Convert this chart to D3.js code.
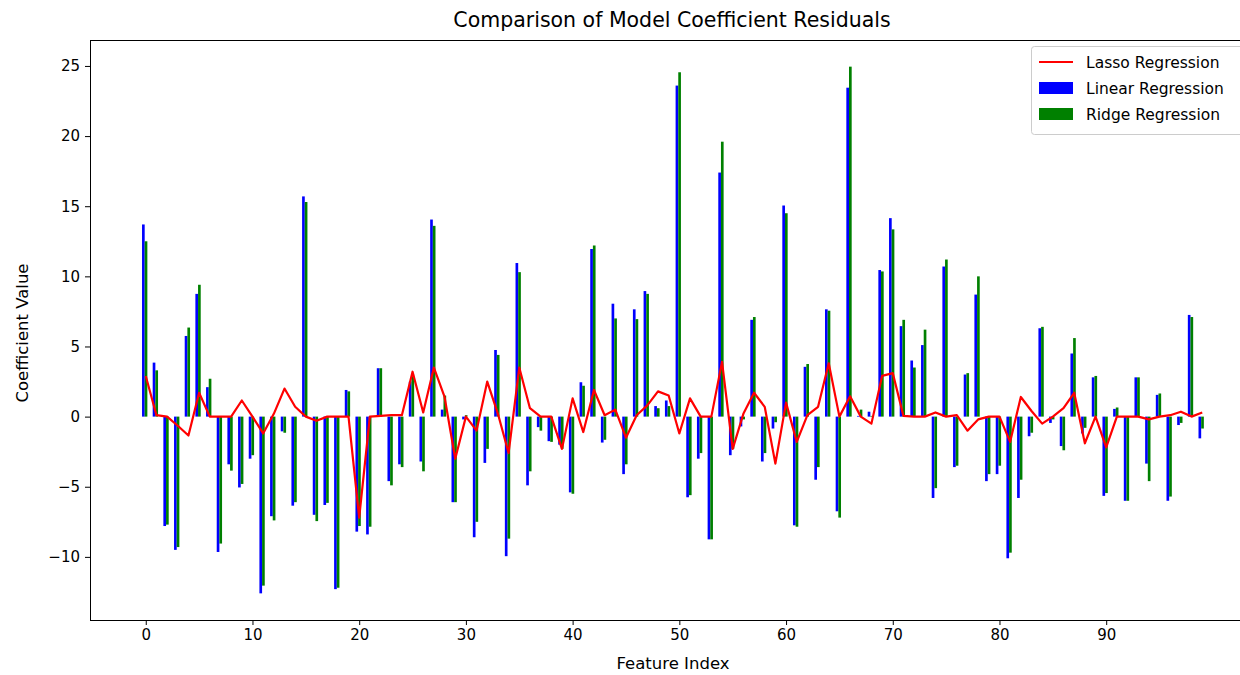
<!DOCTYPE html>
<html>
<head>
<meta charset="utf-8">
<script src="https://cdn.jsdelivr.net/npm/d3@7"></script>
<style>
    body { margin: 0; background: #ffffff; }
    svg { display: block; font-family: "DejaVu Sans", sans-serif; }
</style>
</head>
<body>
<svg id="chart"></svg>
<script>
// coefficients, index 0..99
const linearValues = [
    13.7, 3.85, -7.8, -9.5, 5.75, 8.75, 2.1, -9.65, -3.4, -5.05,
    -3.0, -12.6, -7.1, -1.05, -6.35, 15.7, -7.0, -6.3, -12.3, 1.9,
    -8.2, -8.4, 3.45, -4.6, -3.4, 2.5, -3.2, 14.05, 0.5, -6.1,
    -0.2, -8.6, -3.3, 4.75, -9.95, 10.95, -4.9, -0.75, -1.75, -2.0,
    -5.4, 2.45, 11.95, -1.85, 8.05, -4.1, 7.65, 8.95, 0.75, 1.15,
    23.6, -5.75, -3.0, -8.75, 17.4, -2.75, -0.7, 6.9, -3.2, -0.85,
    15.05, -7.75, 3.55, -4.5, 7.65, -6.75, 23.45, 0.05, 0.35, 10.45,
    14.15, 6.45, 4.0, 5.1, -5.8, 10.7, -3.6, 3.0, 8.7, -4.6,
    -4.1, -10.1, -5.8, -1.4, 6.3, -0.45, -2.1, 4.5, -1.2, 2.8,
    -5.65, 0.55, -6.0, 2.8, -3.35, 1.55, -6.0, -0.6, 7.25, -1.55
];
const ridgeValues = [
    12.5, 3.3, -7.7, -9.3, 6.35, 9.4, 2.7, -9.05, -3.85, -4.8,
    -2.75, -12.05, -7.4, -1.15, -6.1, 15.3, -7.45, -6.15, -12.2, 1.8,
    -7.8, -7.85, 3.45, -4.9, -3.6, 3.0, -3.9, 13.6, 1.5, -6.1,
    0.1, -7.5, -2.3, 4.4, -8.7, 10.3, -3.9, -1.0, -1.8, -2.3,
    -5.5, 2.2, 12.2, -1.65, 7.0, -3.4, 6.95, 8.75, 0.6, 0.75,
    24.55, -5.6, -2.6, -8.75, 19.6, -2.3, -0.2, 7.1, -2.6, -0.4,
    14.5, -7.85, 3.75, -3.6, 7.55, -7.2, 24.95, 0.5, 0.05, 10.35,
    13.35, 6.9, 3.5, 6.2, -5.1, 11.2, -3.5, 3.1, 10.0, -4.1,
    -3.5, -9.7, -4.5, -1.15, 6.4, -0.2, -2.4, 5.6, -0.8, 2.9,
    -5.45, 0.65, -6.0, 2.8, -4.6, 1.65, -5.7, -0.45, 7.1, -0.85
];
const lassoValues = [
    2.9, 0.1, 0.0, -0.65, -1.35, 1.7, 0.0, 0.0, 0.0, 1.15,
    0.0, -1.2, 0.2, 2.0, 0.7, 0.0, -0.3, 0.0, 0.0, 0.0,
    -7.2, 0.0, 0.05, 0.1, 0.1, 3.2, 0.3, 3.5, 1.4, -3.0,
    0.0, -1.0, 2.5, 0.2, -2.6, 3.5, 0.6, 0.0, 0.0, -2.3,
    1.3, -1.1, 1.9, 0.1, 0.5, -1.5, 0.1, 0.8, 1.8, 1.5,
    -1.2, 1.3, 0.0, 0.0, 3.9, -2.3, 0.2, 1.7, 0.7, -3.35,
    1.0, -1.8, 0.1, 0.7, 3.8, 0.0, 1.45, 0.0, -0.5, 2.9,
    3.1, 0.05, 0.0, 0.0, 0.3, 0.0, 0.1, -1.0, -0.2, 0.0,
    0.0, -1.8, 1.4, 0.4, -0.5, 0.0, 0.6, 1.7, -1.9, 0.0,
    -2.2, 0.0, 0.0, 0.0, -0.2, 0.0, 0.1, 0.35, 0.0, 0.3
];
const xTicks = [0, 10, 20, 30, 40, 50, 60, 70, 80, 90];
const yTicks = [-10, -5, 0, 5, 10, 15, 20, 25];
const seriesNames = ['Lasso Regression', 'Linear Regression', 'Ridge Regression'];

class ResidualChart {
    constructor (selector) {
        this._selector = selector;
        this.w = 1240;
        this.h = 675;
        this.frame = { left: 90, top: 40, right: 1258, bottom: 620 };
        this.barWidth = 0.25;

        this.svg = d3.select(selector)
            .attr('width', this.w)
            .attr('height', this.h);

        this.x = d3.scaleLinear()
            .domain([-5.225, 104.225])
            .range([this.frame.left, this.frame.right]);
        this.y = d3.scaleLinear()
            .domain([-14.5, 26.85])
            .range([this.frame.bottom, this.frame.top]);
    }
    makeRows () {
        let rows = [];
        for (let i = 0; i < linearValues.length; i++)
            rows.push({ i: i, linear: linearValues[i], ridge: ridgeValues[i], lasso: lassoValues[i] });

        return rows;
    }
    drawBars (rows, key, shift, color) {
        let x = this.x;
        let y = this.y;
        let bw = this.barWidth;

        this.svg.append('g')
            .attr('class', 'bars ' + key)
            .selectAll('rect')
            .data(rows)
            .enter()
            .append('rect')
            .attr('x', (d) => { return x(d.i + shift); })
            .attr('y', (d) => { return y(Math.max(0, d[key])); })
            .attr('width', (d) => { return x(d.i + shift + bw) - x(d.i + shift); })
            .attr('height', (d) => { return Math.abs(y(d[key]) - y(0)); })
            .attr('fill', color);
    }
    drawLine (rows) {
        let line = d3.line()
            .x((d) => { return this.x(d.i); })
            .y((d) => { return this.y(d.lasso); });

        this.svg.append('path')
            .datum(rows)
            .attr('d', line)
            .attr('fill', 'none')
            .attr('stroke', '#ff0000')
            .attr('stroke-width', 2.2)
            .attr('stroke-linejoin', 'round');
    }
    drawAxes () {
        let f = this.frame;

        let xAxis = this.svg.append('g')
            .attr('transform', 'translate(0,' + f.bottom + ')')
            .call(d3.axisBottom(this.x).tickValues(xTicks).tickSize(5).tickPadding(4));
        let yAxis = this.svg.append('g')
            .attr('transform', 'translate(' + f.left + ',0)')
            .call(d3.axisLeft(this.y).tickValues(yTicks).tickSize(5).tickPadding(5)
                  .tickFormat((d) => { return d < 0 ? '\u2212' + Math.abs(d) : d; }));

        for (let g of [xAxis, yAxis]) {
            g.select('.domain').remove();
            g.selectAll('text')
                .attr('font-family', '"DejaVu Sans", sans-serif')
                .attr('font-size', 15)
                .attr('fill', '#000');
            g.selectAll('line').attr('stroke', '#000').attr('stroke-width', 1);
        }

        // spines
        this.svg.append('rect')
            .attr('x', f.left + 0.5)
            .attr('y', f.top + 0.5)
            .attr('width', f.right - f.left)
            .attr('height', f.bottom - f.top)
            .attr('fill', 'none')
            .attr('stroke', '#000')
            .attr('stroke-width', 1);

        this.svg.append('text')
            .attr('x', (f.left + f.right) / 2 - 2)
            .attr('y', 27)
            .attr('text-anchor', 'middle')
            .attr('font-size', 20.5)
            .text('Comparison of Model Coefficient Residuals');

        this.svg.append('text')
            .attr('x', (f.left + f.right) / 2 - 1)
            .attr('y', 669)
            .attr('text-anchor', 'middle')
            .attr('font-size', 16.5)
            .text('Feature Index');

        this.svg.append('text')
            .attr('transform', 'translate(28,' + ((f.top + f.bottom) / 2 + 3) + ') rotate(-90)')
            .attr('text-anchor', 'middle')
            .attr('font-size', 16.5)
            .text('Coefficient Value');
    }
    drawLegend () {
        let lg = this.svg.append('g').attr('class', 'legend');
        let x0 = 1031;
        let y0 = 46;

        lg.append('rect')
            .attr('x', x0 + 0.5)
            .attr('y', y0 + 0.5)
            .attr('width', 240)
            .attr('height', 88)
            .attr('rx', 3)
            .attr('fill', 'rgba(255,255,255,0.8)')
            .attr('stroke', '#cccccc');

        let colors = ['#ff0000', '#0000ff', '#008000'];
        seriesNames.forEach((name, k) => {
            let cy = y0 + 16 + k * 26;
            if (k === 0) {
                lg.append('line')
                    .attr('x1', x0 + 8).attr('x2', x0 + 42)
                    .attr('y1', cy).attr('y2', cy)
                    .attr('stroke', colors[k])
                    .attr('stroke-width', 2.2);
            } else {
                lg.append('rect')
                    .attr('x', x0 + 8).attr('y', cy - 6)
                    .attr('width', 34).attr('height', 12)
                    .attr('fill', colors[k]);
            }
            lg.append('text')
                .attr('x', x0 + 55)
                .attr('y', cy + 5.5)
                .attr('font-size', 15.5)
                .text(name);
        });
    }
    draw () {
        let rows = this.makeRows();

        this.drawBars(rows, 'linear', -0.35, '#0000ff');
        this.drawBars(rows, 'ridge', -0.1, '#008000');
        this.drawLine(rows);
        this.drawAxes();
        this.drawLegend();
    }
}

new ResidualChart('#chart').draw();
</script>
</body>
</html>
